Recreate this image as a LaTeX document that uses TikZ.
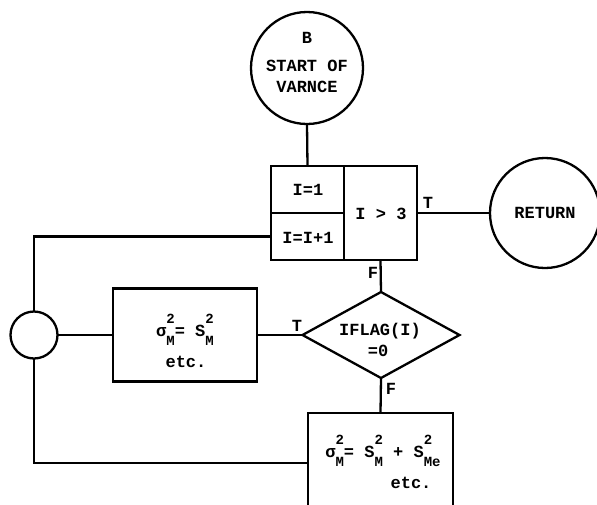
\documentclass[tikz,border=0pt]{standalone}
\usepackage{fontspec}
\setmonofont{Liberation Mono}
\usetikzlibrary{shapes.geometric}
\newcommand{\SuSb}[2]{\makebox[0pt][l]{\raisebox{12.5pt}{\fontsize{14}{14}\selectfont #1}}\raisebox{-9pt}{\fontsize{14}{14}\selectfont #2}}
\tikzset{
  lbl/.style={font=\ttfamily\bfseries\fontsize{17}{21}\selectfont, inner sep=0pt, align=center},
  boxnode/.style={draw, rectangle, inner sep=0pt, outer sep=0pt},
  circnode/.style={draw, circle, inner sep=0pt, outer sep=0pt},
  dianode/.style={draw, diamond, inner sep=0pt, outer sep=0pt},
}
\begin{document}
\begin{tikzpicture}[x=1pt,y=-1pt,line width=2.3pt]
\useasboundingbox (0,0) rectangle (597,504);
\clip (0,0) rectangle (597,504);
% shapes
\node[circnode, minimum size=112pt] (start) at (307,68) {};
\node[boxnode, minimum width=73pt, minimum height=47pt] (i1) at (307.5,189.5) {};
\node[boxnode, minimum width=73pt, minimum height=47pt] (iinc) at (307.5,236.5) {};
\node[boxnode, minimum width=73pt, minimum height=94pt] (test) at (380.5,213) {};
\node[circnode, minimum size=110pt] (ret) at (545,213) {};
\node[dianode, minimum width=157pt, minimum height=86pt] (dia) at (381,335) {};
\node[boxnode, minimum width=144pt, minimum height=93pt] (lb) at (185,335) {};
\node[circnode, minimum size=47pt] (sc) at (34,335) {};
\node[boxnode, minimum width=145pt, minimum height=100pt] (lb2) at (380.5,463) {};
% connectors
\draw (start.south) -- (i1.north);
\draw (test.east) -- (ret.west);
\draw (test.south) -- (dia.north);
\draw (dia.west) -- (lb.east);
\draw (lb.west) -- (sc.east);
\draw (iinc.west) -| (sc.north);
\draw (sc.south) |- (lb2.west);
\draw (dia.south) -- (lb2.north);
% texts
\node[lbl] (tB) at (307,38) {B};
\node[lbl] (tStart) at (307,76) {START OF\\VARNCE};
\node[lbl] (tI1) at (308,190) {I=1};
\node[lbl] (tIinc) at (308,238) {I=I+1};
\node[lbl] (tTest) at (381,214) {I > 3};
\node[lbl] (tRet) at (545,213) {RETURN};
\node[lbl] (tIflag) at (380,331) {IFLAG(I)};
\node[lbl] (tZero) at (378,351) {=0};
\node[lbl, anchor=base] (fL) at (185,336) {σ\SuSb{2}{M}= S\SuSb{2}{M}};
\node[lbl] (eL) at (186,362) {etc.};
\node[lbl, anchor=base] (fR) at (383,457) {σ\SuSb{2}{M}= S\SuSb{2}{M} + S\SuSb{2}{Me}};
\node[lbl] (eR) at (411,483) {etc.};
\node[lbl] (lT1) at (428,203) {T};
\node[lbl] (lF1) at (373,273) {F};
\node[lbl] (lT2) at (297,326) {T};
\node[lbl] (lF2) at (391,389) {F};
\end{tikzpicture}
\end{document}
